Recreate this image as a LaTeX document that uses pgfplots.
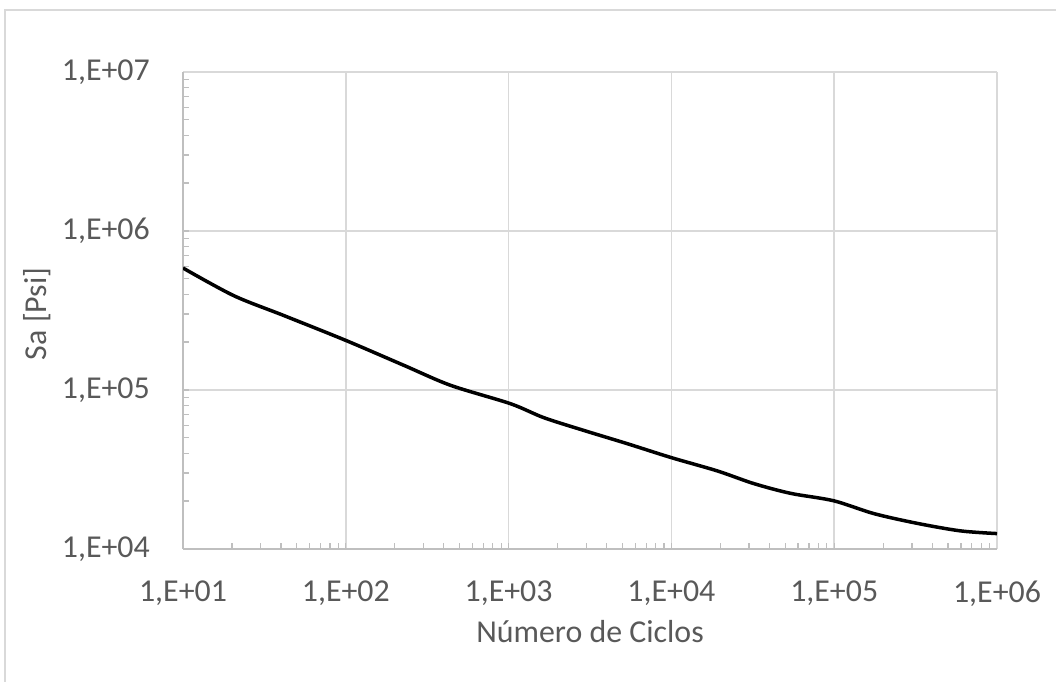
\documentclass[border=0pt]{standalone}
\usepackage{fontspec}
\setmainfont{Carlito}
\usepackage{pgfplots}
\pgfplotsset{compat=1.18}
\definecolor{txt}{HTML}{595959}
\definecolor{grd}{HTML}{D9D9D9}
\definecolor{axl}{HTML}{BFBFBF}
\begin{document}
\begin{tikzpicture}[x=1bp,y=1bp]
\path[use as bounding box] (0,0) rectangle (1056,682);
\draw[grd, line width=1.5bp] (5,-5) -- (5,672) -- (1060,672);
\begin{axis}[
  at={(183bp,133bp)}, anchor=south west,
  scale only axis, width=814bp, height=477bp,
  xmode=log, ymode=log,
  xmin=10, xmax=1e6, ymin=1e4, ymax=1e7,
  xtick={10,100,1000,10000,100000,1000000},
  xticklabels={{1,E+01},{1,E+02},{1,E+03},{1,E+04},{1,E+05},{1,E+06}},
  ytick={10000,100000,1000000,10000000},
  yticklabels={{1,E+04},{1,E+05},{1,E+06},{1,E+07}},
  axis x line*=bottom, axis y line*=left,
  axis line style={axl, line width=1.5bp, -},
  grid=major, major grid style={grd, line width=1.5bp},
  tick align=inside, major tick length=0pt, minor tick length=6.5bp,
  minor tick style={axl, line width=1.3bp},
  ticklabel style={font=\fontsize{32}{38}\selectfont, text=txt, inner sep=0pt},
  xticklabel style={anchor=north, yshift=-32bp},
  yticklabel style={anchor=east, xshift=-33bp},
  label style={font=\fontsize{32}{38}\selectfont, text=txt, inner sep=0pt},
  xlabel={Número de Ciclos},
  ylabel={Sa [Psi]},
  xlabel style={at={(axis description cs:0.5,-0.197)}, anchor=base},
  ylabel style={at={(axis description cs:-0.179,0.493)}, anchor=center},
]
\addplot[black, line width=3.5bp, smooth] coordinates {
(10,585000) (20.5,392000) (41.6,294000) (100,205000) (227,143000) (440,107000)
(1026,82000) (1644,67000) (2893,55700) (5340,46000) (9950,37600) (19100,31000)
(32000,25800) (53800,22400) (99300,20100) (175000,16700) (323000,14500)
(596000,13000) (1000000,12500)
};
\end{axis}
\end{tikzpicture}
\end{document}
